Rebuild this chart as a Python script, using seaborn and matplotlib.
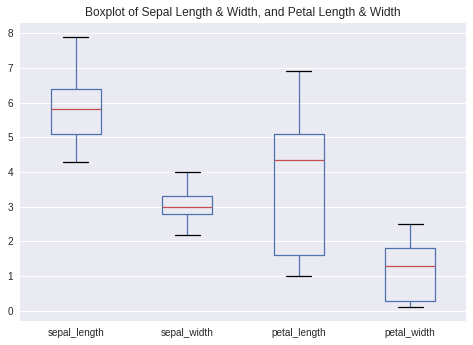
import matplotlib
matplotlib.use("Agg")
import matplotlib.pyplot as plt
import seaborn as sns
import pandas as pd

# Summary-level sample values (min, Q1, median, Q3, max)
features = ["sepal_length", "sepal_width", "petal_length", "petal_width"]
sepal_length = [4.3, 5.1, 5.8, 6.4, 7.9]
sepal_width = [2.2, 2.8, 3.0, 3.3, 4.0]
petal_length = [1.0, 1.6, 4.35, 5.1, 6.9]
petal_width = [0.1, 0.3, 1.3, 1.8, 2.5]
title = "Boxplot of Sepal Length & Width, and Petal Length & Width"

series = [sepal_length, sepal_width, petal_length, petal_width]
df = pd.DataFrame({
    "feature": [f for f, vals in zip(features, series) for _ in vals],
    "value": [v for vals in series for v in vals],
})

sns.set_theme(style="darkgrid")
plt.rcParams["font.family"] = ["Liberation Sans", "DejaVu Sans"]
plt.rcParams["axes.facecolor"] = "#EAEAF2"

fig = plt.figure(figsize=(473 / 72, 345 / 72), dpi=72)
ax = fig.add_axes([20 / 473, 1 - 321 / 345, 446 / 473, 298 / 345])

blue = "#4C72B0"
sns.boxplot(
    data=df, x="feature", y="value", order=features, ax=ax,
    fill=False, width=0.45, whis=1.5, color=blue, linewidth=1.25,
    capwidths=0.225,
    boxprops=dict(color=blue, linewidth=1.25),
    whiskerprops=dict(color=blue, linewidth=1.25),
    capprops=dict(color="black", linewidth=1.25),
    medianprops=dict(color="#C44E52", linewidth=1.25),
    showfliers=False,
)
ax.set_xlim(-0.5, 3.5)
ax.set_ylim(-0.29, 8.29)
ax.set_xlabel("")
ax.set_ylabel("")
ax.tick_params(axis="both", labelsize=10, colors="#262626", length=0, pad=7)
ax.set_title(title, fontsize=12, color="#262626", pad=7)
for s in ax.spines.values():
    s.set_visible(False)

fig.savefig("out.png", dpi=72)
